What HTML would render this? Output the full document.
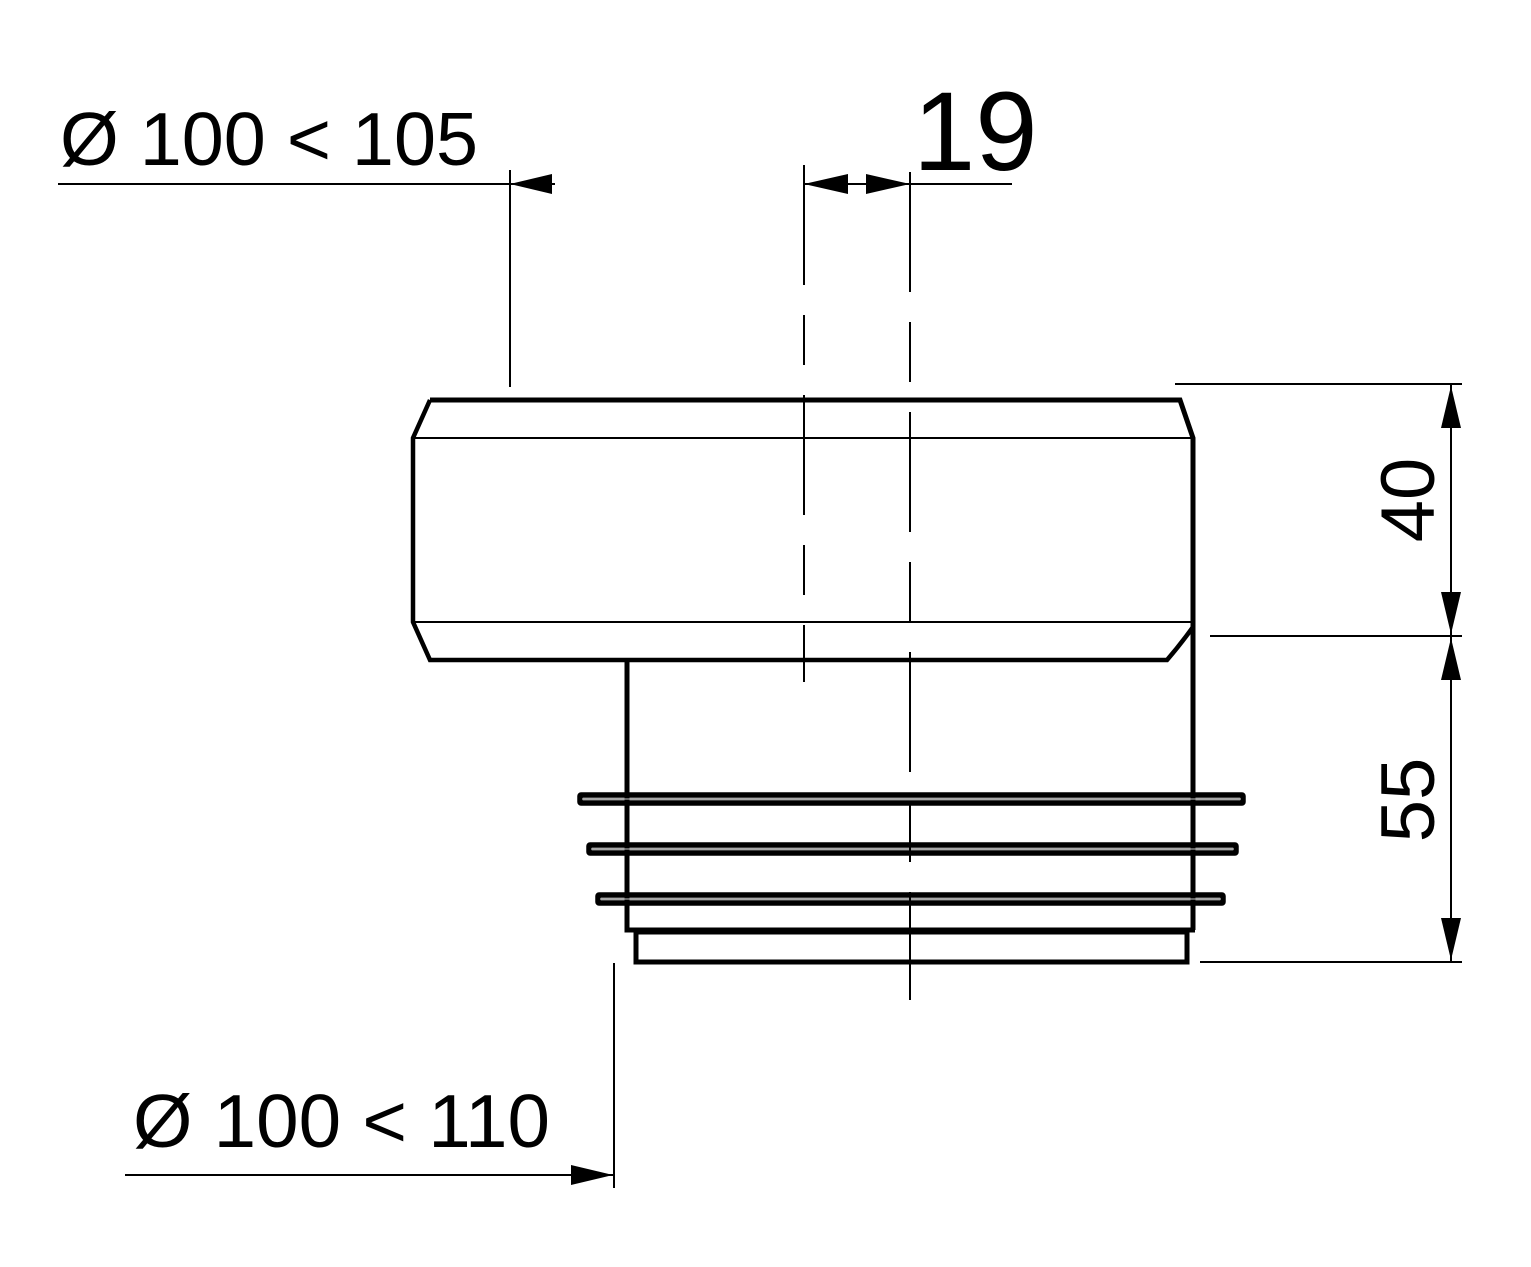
<!DOCTYPE html>
<html><head><meta charset="utf-8"><style>body{margin:0;background:#fff}svg{display:block}</style></head>
<body>
<svg width="1531" height="1267" viewBox="0 0 1531 1267" xmlns="http://www.w3.org/2000/svg" font-family="Liberation Sans, sans-serif">
<g fill="none" stroke="#000">
<path d="M430 400 L1180 400 L1193 438 L1193 930" stroke-width="5"/>
<path d="M430 400 L413 438 L413 622 L430 660 L1167 660 Q1180 645 1193 627" stroke-width="4.5"/>
<path d="M413 438 H1193 M413 622 H1193" stroke-width="2"/>
<path d="M627 660 V930 H1195" stroke-width="5"/>
<rect x="636" y="932" width="551" height="30" stroke-width="5"/>
<rect x="580" y="795" width="663" height="8" rx="1" stroke-width="5.5" stroke="#000"/>
<rect x="589" y="845" width="647" height="8" rx="1" stroke-width="5.5"/>
<rect x="598" y="895" width="625" height="8" rx="1" stroke-width="5.5"/>
<path d="M582 799 H1241 M591 849 H1234 M600 899 H1221" stroke="#888" stroke-width="1.5"/>
<path d="M804 165 V682" stroke-width="2" stroke-dasharray="120,30,50,30"/>
<path d="M910 172 V1000" stroke-width="2" stroke-dasharray="120,30,60,30"/>
<path d="M58 184 H555 M510 170 V387" stroke-width="2"/>
<path d="M804 184 H1012" stroke-width="2"/>
<path d="M1175 384 H1462 M1210 636 H1462 M1200 962 H1462 M1451 384 V962" stroke-width="2"/>
<path d="M125 1175 H613 M614 963 V1188" stroke-width="2"/>
</g>
<g fill="#000">
<polygon points="510,184 552,174 552,194"/>
<polygon points="804,184 848,174 848,194"/>
<polygon points="910,184 866,174 866,194"/>
<polygon points="1451,386 1441,428 1461,428"/>
<polygon points="1451,634 1441,592 1461,592"/>
<polygon points="1451,638 1441,680 1461,680"/>
<polygon points="1451,960 1441,918 1461,918"/>
<polygon points="613,1175 571,1165 571,1185"/>
<text x="60" y="165" font-size="75" textLength="418" lengthAdjust="spacingAndGlyphs">Ø 100 &lt; 105</text>
<text x="913" y="170" font-size="112">19</text>
<text x="133" y="1147" font-size="75" textLength="417" lengthAdjust="spacingAndGlyphs">Ø 100 &lt; 110</text>
<text transform="translate(1434,500) rotate(-90)" font-size="76" text-anchor="middle">40</text>
<text transform="translate(1434,800) rotate(-90)" font-size="76" text-anchor="middle">55</text>
</g>
</svg>
</body></html>
